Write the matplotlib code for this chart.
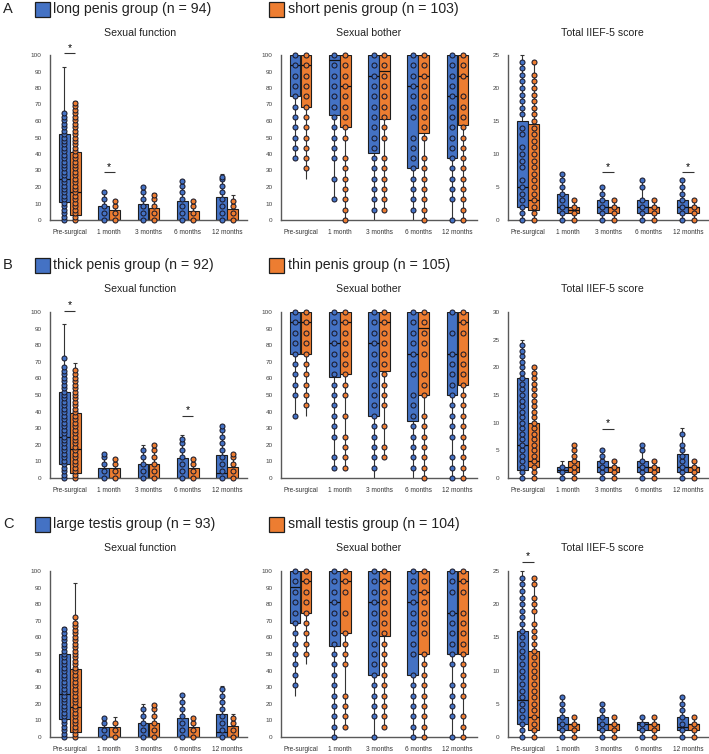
import matplotlib
matplotlib.use('Agg')
import matplotlib.pyplot as plt
from matplotlib.patches import Rectangle

plt.rcParams['font.family'] = ['Liberation Sans', 'DejaVu Sans']

timepoints = ['Pre-surgical', '1 month', '3 months', '6 months', '12 months']
panel_titles = ['Sexual function', 'Sexual bother', 'Total IIEF-5 score']
row_labels = ['A', 'B', 'C']
group1_labels = ['long penis group (n = 94)', 'thick penis group (n = 92)', 'large testis group (n = 93)']
group2_labels = ['short penis group (n = 103)', 'thin penis group (n = 105)', 'small testis group (n = 104)']
ylims = [[100, 100, 25], [100, 100, 30], [100, 100, 25]]
ysteps = [10, 10, 5]

# ---- box statistics per time point: (low whisker, Q1, median, Q3, high whisker)
A_func_g1 = [(0, 11, 25, 52, 93), (0, 0, 0, 8.5, 17), (0, 0, 0, 9.5, 20), (0, 0, 0, 11.3, 24), (0, 0, 0, 14, 28)]
A_func_g2 = [(0, 3, 16.7, 41, 72), (0, 0, 0, 5.8, 12), (0, 0, 0, 7, 16.5), (0, 0, 0, 5.6, 12), (0, 0, 0, 6.5, 15)]
A_both_g1 = [(37.5, 75, 93.75, 100, 100), (12.5, 63.5, 96.9, 100, 100), (0, 40.6, 87.5, 100, 100), (0, 31.25, 81.25, 100, 100), (0, 37.5, 75, 100, 100)]
A_both_g2 = [(25, 68.75, 93.75, 100, 100), (0, 56.25, 81.25, 100, 100), (6.25, 61, 90.6, 100, 100), (0, 53, 87.5, 100, 100), (0, 57.8, 87.5, 100, 100)]
A_iief_g1 = [(0, 2, 5, 15, 25), (0, 1, 2, 4, 7), (0, 1, 2, 3, 5), (0, 1, 2, 3, 6), (0, 1, 2, 3, 6)]
A_iief_g2 = [(0, 1.5, 3, 14.5, 24), (0, 1, 1.5, 2, 3), (0, 1, 2, 2, 3), (0, 1, 2, 2, 3), (0, 1, 2, 2, 3)]

B_func_g1 = [(0, 8.4, 25, 52, 93), (0, 0, 0, 6.2, 14.6), (0, 0, 0, 8.6, 20), (0, 0, 0, 12, 26), (0, 0, 3.2, 14, 32)]
B_func_g2 = [(0, 3, 17.3, 39.4, 69.5), (0, 0, 0, 6, 12), (0, 0, 0, 8.5, 20.3), (0, 0, 0, 6, 12), (0, 0, 0, 6.5, 14.6)]
B_both_g1 = [(37.5, 75, 93.75, 100, 100), (6.25, 61, 81.25, 100, 100), (0, 37.5, 81.25, 100, 100), (0, 34.4, 75, 100, 100), (0, 50, 75, 100, 100)]
B_both_g2 = [(37.5, 75, 93.75, 100, 100), (6.25, 62.5, 93.75, 100, 100), (12.5, 64.3, 93.75, 100, 100), (0, 50, 90.6, 100, 100), (0, 56.25, 93.75, 100, 100)]
B_iief_g1 = [(0, 1.5, 6, 18, 25), (0, 1, 1.5, 2, 3), (0, 1, 2, 3, 5), (0, 1, 2, 3, 6), (0, 1, 2, 4.3, 9)]
B_iief_g2 = [(0, 2, 3, 10, 20), (0, 1, 2, 3, 6), (0, 1, 2, 2, 3), (0, 1, 2, 2, 3), (0, 1, 2, 2, 3)]

C_func_g1 = [(0, 11, 26, 50, 66), (0, 0, 0, 6, 12), (0, 0, 0, 8.5, 20), (0, 0, 0, 11.5, 26), (0, 0, 3, 14, 31)]
C_func_g2 = [(0, 3, 18, 41, 93), (0, 0, 0, 6, 12), (0, 0, 0, 8.5, 20), (0, 0, 0, 6, 12), (0, 0, 0, 6.5, 14)]
C_both_g1 = [(25, 68.75, 90.6, 100, 100), (0, 54.8, 81.25, 100, 100), (0, 37.5, 81.25, 100, 100), (0, 37.5, 81.25, 100, 100), (0, 50, 75, 100, 100)]
C_both_g2 = [(43.75, 75, 93.75, 100, 100), (6.25, 62.5, 93.75, 100, 100), (6.25, 61, 93.75, 100, 100), (0, 50, 87.5, 100, 100), (0, 50, 93.75, 100, 100)]
C_iief_g1 = [(0, 2, 5.5, 16, 25), (0, 1, 2, 3, 6), (0, 1, 2, 3, 5), (0, 1, 2, 2.3, 3), (0, 1, 1.5, 3, 6)]
C_iief_g2 = [(0, 1, 3, 13, 24), (0, 1, 2, 2, 3), (0, 1, 2, 2, 3), (0, 1, 2, 2, 3), (0, 1, 2, 2, 3)]

# ---- individual observed values (dots) per time point
A_func_g1_dots = [[0, 2.1, 4.2, 6.3, 8.3, 10.4, 12.5, 14.6, 16.7, 18.8, 20.8, 22.9, 25, 27.1, 29.2, 31.3, 33.3,
                   35.4, 37.5, 39.6, 41.7, 43.8, 45.8, 47.9, 50, 52.1, 54.2, 56.3, 58.3, 60.4, 62.5, 65],
                  [0, 4.2, 8.3, 12.5, 16.7], [0, 4.2, 8.3, 12.5, 16.7, 20],
                  [0, 4.2, 8.3, 12.5, 16.7, 20.8, 23.8], [0, 4.2, 8.3, 12.5, 16.7, 20.8, 25, 26.2]]
A_func_g2_dots = [[0, 2.1, 4.2, 6.3, 8.3, 10.4, 12.5, 14.6, 16.7, 18.8, 20.8, 22.9, 25, 27.1, 29.2, 31.3, 33.3,
                   35.4, 37.5, 39.6, 41.7, 43.8, 45.8, 47.9, 50, 52.1, 54.2, 56.3, 58.3, 60.4, 62.5, 64.6,
                   66.7, 68.8, 70.8],
                  [0, 4.2, 8.3, 11.5], [0, 4.2, 8.3, 12.5, 15.3], [0, 4.2, 8.3, 11.5], [0, 4.2, 8.3, 11.5]]
A_both_g1_dots = [[37.5, 43.75, 50, 56.25, 62.5, 68.75, 75, 81.25, 87.5, 93.75, 100],
                  [12.5, 25, 37.5, 43.75, 50, 56.25, 62.5, 68.75, 75, 81.25, 87.5, 93.75, 100],
                  [6.25, 12.5, 18.75, 25, 31.25, 37.5, 43.75, 50, 56.25, 62.5, 68.75, 75, 81.25, 87.5, 93.75, 100],
                  [6.25, 12.5, 18.75, 25, 31.25, 37.5, 43.75, 50, 62.5, 68.75, 75, 81.25, 87.5, 93.75, 100],
                  [0, 12.5, 18.75, 25, 31.25, 37.5, 43.75, 50, 56.25, 62.5, 68.75, 75, 81.25, 87.5, 93.75, 100]]
A_both_g2_dots = [[31.25, 37.5, 43.75, 50, 56.25, 62.5, 68.75, 75, 81.25, 87.5, 93.75, 100],
                  [0, 6.25, 12.5, 18.75, 25, 31.25, 37.5, 50, 56.25, 62.5, 68.75, 75, 81.25, 87.5, 93.75, 100],
                  [6.25, 12.5, 18.75, 25, 31.25, 37.5, 50, 56.25, 62.5, 68.75, 75, 81.25, 87.5, 93.75, 100],
                  [0, 6.25, 12.5, 18.75, 25, 31.25, 37.5, 50, 56.25, 62.5, 68.75, 75, 81.25, 87.5, 93.75, 100],
                  [0, 6.25, 12.5, 18.75, 25, 31.25, 37.5, 43.75, 50, 56.25, 62.5, 68.75, 75, 87.5, 93.75, 100]]
A_iief_g1_dots = [[0, 1, 2, 3, 4, 5, 6, 8, 9, 10, 11, 13, 14, 16, 17, 18, 19, 20, 21, 22, 23, 24],
                  [0, 1, 2, 3, 4, 5, 6, 7], [0, 1, 2, 3, 4, 5], [0, 1, 2, 3, 5, 6], [0, 1, 2, 3, 4, 5, 6]]
A_iief_g2_dots = [[0, 1, 2, 3, 4, 5, 6, 7, 8, 9, 10, 11, 12, 13, 14, 15, 16, 17, 18, 19, 20, 21, 22, 24],
                  [0, 1, 2, 3], [0, 1, 2, 3], [0, 1, 2, 3], [0, 1, 2, 3]]

B_func_g1_dots = [[0, 2.1, 4.2, 6.3, 8.3, 10.4, 12.5, 14.6, 16.7, 18.8, 20.8, 22.9, 25, 27.1, 29.2, 31.3, 33.3,
                   35.4, 37.5, 39.6, 41.7, 43.8, 45.8, 47.9, 50, 52.1, 54.2, 56.3, 58.3, 60.4, 62.5, 64.6,
                   66.7, 72],
                  [0, 4.2, 8.3, 12.5, 14.6], [0, 4.2, 8.3, 12.5, 16.7],
                  [0, 4.2, 8.3, 12.5, 16.7, 20.8, 23.5], [0, 4.2, 8.3, 12.5, 16.7, 20.8, 25, 29.2, 31.5]]
B_func_g2_dots = [[0, 2.1, 4.2, 6.3, 8.3, 10.4, 12.5, 14.6, 16.7, 18.8, 20.8, 22.9, 25, 27.1, 29.2, 31.3, 33.3,
                   35.4, 37.5, 39.6, 41.7, 43.8, 45.8, 47.9, 50, 52.1, 54.2, 56.3, 58.3, 60.4, 62.5, 65],
                  [0, 4.2, 8.3, 11.5], [0, 4.2, 8.3, 12.5, 16.7, 20], [0, 4.2, 8.3, 11.5], [0, 4.2, 8.3, 12.5, 14.6]]
B_both_g1_dots = [[37.5, 50, 56.25, 62.5, 68.75, 75, 81.25, 87.5, 93.75, 100],
                  [6.25, 12.5, 25, 31.25, 37.5, 43.75, 50, 56.25, 62.5, 68.75, 75, 81.25, 87.5, 93.75, 100],
                  [6.25, 12.5, 18.75, 25, 31.25, 37.5, 43.75, 50, 56.25, 62.5, 68.75, 75, 81.25, 87.5, 93.75, 100],
                  [6.25, 12.5, 18.75, 25, 31.25, 37.5, 43.75, 50, 62.5, 68.75, 75, 81.25, 87.5, 93.75, 100],
                  [0, 6.25, 12.5, 25, 31.25, 37.5, 43.75, 50, 56.25, 62.5, 68.75, 75, 87.5, 100]]
B_both_g2_dots = [[43.75, 50, 56.25, 62.5, 68.75, 75, 81.25, 87.5, 93.75, 100],
                  [6.25, 12.5, 18.75, 25, 37.5, 50, 56.25, 62.5, 68.75, 75, 81.25, 87.5, 93.75, 100],
                  [12.5, 18.75, 31.25, 43.75, 50, 56.25, 62.5, 68.75, 75, 81.25, 87.5, 93.75, 100],
                  [0, 6.25, 12.5, 18.75, 25, 31.25, 37.5, 50, 56.25, 62.5, 75, 81.25, 87.5, 93.75, 100],
                  [0, 6.25, 12.5, 18.75, 25, 31.25, 37.5, 43.75, 50, 56.25, 62.5, 68.75, 75, 87.5, 93.75, 100]]
B_iief_g1_dots = [[0, 1, 2, 3, 4, 5, 6, 7, 8, 9, 10, 11, 12, 13, 14, 15, 16, 17, 18, 19, 20, 21, 22, 23, 24],
                  [0, 1, 2], [0, 1, 2, 3, 4, 5], [0, 1, 2, 3, 5, 6], [0, 1, 2, 3, 4, 5, 6, 8]]
B_iief_g2_dots = [[0, 1, 2, 3, 4, 5, 6, 7, 8, 9, 10, 11, 12, 13, 14, 15, 16, 17, 18, 19, 20],
                  [0, 1, 2, 3, 4, 5, 6], [0, 1, 2, 3], [0, 1, 2, 3], [0, 1, 2, 3]]

C_func_g1_dots = [[0, 2.1, 4.2, 6.3, 8.3, 10.4, 12.5, 14.6, 16.7, 18.8, 20.8, 22.9, 25, 27.1, 29.2, 31.3, 33.3,
                   35.4, 37.5, 39.6, 41.7, 43.8, 45.8, 47.9, 50, 52.1, 54.2, 56.3, 58.3, 60.4, 62.5, 65],
                  [0, 4.2, 8.3, 11.5], [0, 4.2, 8.3, 12.5, 16.7],
                  [0, 4.2, 8.3, 12.5, 16.7, 20.8, 25.5], [0, 4.2, 8.3, 12.5, 16.7, 20.8, 25, 29]]
C_func_g2_dots = [[0, 2.1, 4.2, 6.3, 8.3, 10.4, 12.5, 14.6, 16.7, 18.8, 20.8, 22.9, 25, 27.1, 29.2, 31.3, 33.3,
                   35.4, 37.5, 39.6, 41.7, 43.8, 45.8, 47.9, 50, 52.1, 54.2, 56.3, 58.3, 60.4, 62.5, 64.6,
                   66.7, 68.8, 72],
                  [0, 4.2, 8.4], [0, 4.2, 8.3, 12.5, 16.7, 19.5], [0, 4.2, 8.3, 11.5], [0, 4.2, 8.3, 11.5]]
C_both_g1_dots = [[31.25, 37.5, 43.75, 50, 56.25, 62.5, 68.75, 75, 81.25, 87.5, 93.75, 100],
                  [0, 6.25, 12.5, 18.75, 25, 31.25, 37.5, 43.75, 50, 56.25, 62.5, 68.75, 75, 81.25, 87.5, 93.75, 100],
                  [0, 12.5, 18.75, 25, 31.25, 37.5, 43.75, 50, 56.25, 62.5, 68.75, 75, 81.25, 87.5, 93.75, 100],
                  [0, 6.25, 12.5, 18.75, 25, 31.25, 37.5, 50, 56.25, 62.5, 68.75, 75, 81.25, 87.5, 93.75, 100],
                  [0, 12.5, 18.75, 25, 31.25, 43.75, 50, 56.25, 62.5, 68.75, 75, 87.5, 93.75, 100]]
C_both_g2_dots = [[50, 56.25, 62.5, 68.75, 75, 81.25, 87.5, 93.75, 100],
                  [6.25, 12.5, 18.75, 25, 43.75, 50, 56.25, 62.5, 75, 87.5, 93.75, 100],
                  [6.25, 12.5, 18.75, 25, 31.25, 37.5, 43.75, 50, 56.25, 62.5, 68.75, 75, 81.25, 87.5, 93.75, 100],
                  [0, 6.25, 12.5, 18.75, 25, 31.25, 37.5, 43.75, 50, 62.5, 68.75, 75, 81.25, 87.5, 93.75, 100],
                  [0, 6.25, 12.5, 25, 31.25, 37.5, 43.75, 50, 56.25, 62.5, 68.75, 75, 87.5, 93.75, 100]]
C_iief_g1_dots = [[0, 1, 2, 3, 4, 5, 6, 7, 8, 9, 10, 11, 12, 13, 14, 15, 16, 17, 18, 19, 20, 21, 22, 23, 24],
                  [0, 1, 2, 3, 4, 5, 6], [0, 1, 2, 3, 4, 5], [0, 1, 2, 3], [0, 1, 2, 3, 4, 5, 6]]
C_iief_g2_dots = [[0, 1, 2, 3, 4, 5, 6, 7, 8, 9, 10, 11, 12, 13, 14, 15, 16, 17, 19, 20, 21, 23, 24],
                  [0, 1, 2, 3], [0, 1, 2, 3], [0, 1, 2, 3], [0, 1, 2, 3]]

# ---- significance markers: (time point index, bar height)
A_func_stars = [(0, 101), (1, 28.8)]
A_both_stars = []
A_iief_stars = [(2, 7.2), (4, 7.2)]
B_func_stars = [(0, 100.5), (3, 37.3)]
B_both_stars = []
B_iief_stars = [(2, 8.9)]
C_func_stars = []
C_both_stars = []
C_iief_stars = [(0, 26.4)]

panels = [
    [(A_func_g1, A_func_g2, A_func_g1_dots, A_func_g2_dots, A_func_stars),
     (A_both_g1, A_both_g2, A_both_g1_dots, A_both_g2_dots, A_both_stars),
     (A_iief_g1, A_iief_g2, A_iief_g1_dots, A_iief_g2_dots, A_iief_stars)],
    [(B_func_g1, B_func_g2, B_func_g1_dots, B_func_g2_dots, B_func_stars),
     (B_both_g1, B_both_g2, B_both_g1_dots, B_both_g2_dots, B_both_stars),
     (B_iief_g1, B_iief_g2, B_iief_g1_dots, B_iief_g2_dots, B_iief_stars)],
    [(C_func_g1, C_func_g2, C_func_g1_dots, C_func_g2_dots, C_func_stars),
     (C_both_g1, C_both_g2, C_both_g1_dots, C_both_g2_dots, C_both_stars),
     (C_iief_g1, C_iief_g2, C_iief_g1_dots, C_iief_g2_dots, C_iief_stars)],
]

BLUE = '#4472C4'
ORANGE = '#ED7D31'
EDGE = '#1e1e1e'

W, H = 709, 754
fig = plt.figure(figsize=(W / 100, H / 100), dpi=100)

col_px = [(50, 247), (281, 477), (508, 708)]
row_px = [(55, 220), (312, 478), (571, 737)]
title_x = [140, 369, 602]
title_y = [33, 289, 548]
legend_y = [9, 265, 524]

BOX_W = 0.27
OFF = 0.14


def draw_group(ax, stats, dots, offset, color):
    for i, (lo, q1, med, q3, hi) in enumerate(stats):
        x = i + offset
        ax.vlines(x, lo, hi, color='#333333', lw=0.8, zorder=1, clip_on=False)
        ax.hlines(hi, x - 0.05, x + 0.05, color='#333333', lw=0.8, zorder=1, clip_on=False)
        ax.add_patch(Rectangle((x - BOX_W / 2, q1), BOX_W, q3 - q1, facecolor=color,
                               edgecolor=EDGE, lw=0.8, zorder=2))
        ax.hlines(med, x - BOX_W / 2, x + BOX_W / 2, color='#111111', lw=0.9, zorder=3)
        vals = dots[i]
        ax.plot([x] * len(vals), vals, 'o', ms=3.6, mfc=color, mec='#1a1a2a', mew=0.75,
                zorder=4, clip_on=False)


for r in range(3):
    top, bot = row_px[r]
    for c in range(3):
        left, right = col_px[c]
        ax = fig.add_axes([left / W, 1 - bot / H, (right - left) / W, (bot - top) / H])
        g1, g2, d1, d2, stars = panels[r][c]
        draw_group(ax, g1, d1, -OFF, BLUE)
        draw_group(ax, g2, d2, OFF, ORANGE)
        ymax = ylims[r][c]
        ax.set_xlim(-0.5, 4.5)
        ax.set_ylim(0, ymax)
        ax.set_yticks(list(range(0, ymax + 1, ysteps[c])))
        ax.set_xticks(range(len(timepoints)))
        ax.set_xticklabels(timepoints, fontsize=4.7, color='#333333')
        ax.tick_params(axis='y', labelsize=4.6, labelcolor='#404040', length=0, pad=6)
        ax.tick_params(axis='x', length=0, pad=6.5)
        for s in ['top', 'right']:
            ax.spines[s].set_visible(False)
        for s in ['left', 'bottom']:
            ax.spines[s].set_color('#595959')
            ax.spines[s].set_linewidth(1.0)
        ax.patch.set_alpha(0)
        for (ti, yv) in stars:
            ax.hlines(yv, ti - OFF, ti + OFF, color='#333333', lw=0.8, clip_on=False)
            ax.annotate('*', (ti, yv), xytext=(0, 0.5), textcoords='offset points',
                        ha='center', va='bottom', fontsize=7.5, annotation_clip=False)
        fig.text(title_x[c] / W, 1 - title_y[r] / H, panel_titles[c], ha='center', va='center',
                 fontsize=7.6, color='#222222')

    # row label and legend
    yc = 1 - legend_y[r] / H
    fig.text(3 / W, yc, row_labels[r], ha='left', va='center', fontsize=10.5, color='#222222')
    sq = 15
    fig.patches.append(Rectangle((35 / W, (H - legend_y[r] - sq / 2) / H), sq / W, sq / H,
                                 transform=fig.transFigure, facecolor=BLUE, edgecolor=EDGE, lw=0.9))
    fig.text(53 / W, yc, group1_labels[r], ha='left', va='center', fontsize=10.2, color='#222222')
    fig.patches.append(Rectangle((269 / W, (H - legend_y[r] - sq / 2) / H), sq / W, sq / H,
                                 transform=fig.transFigure, facecolor=ORANGE, edgecolor=EDGE, lw=0.9))
    fig.text(288 / W, yc, group2_labels[r], ha='left', va='center', fontsize=10.2, color='#222222')

fig.savefig('out.png', dpi=100, facecolor='white')
